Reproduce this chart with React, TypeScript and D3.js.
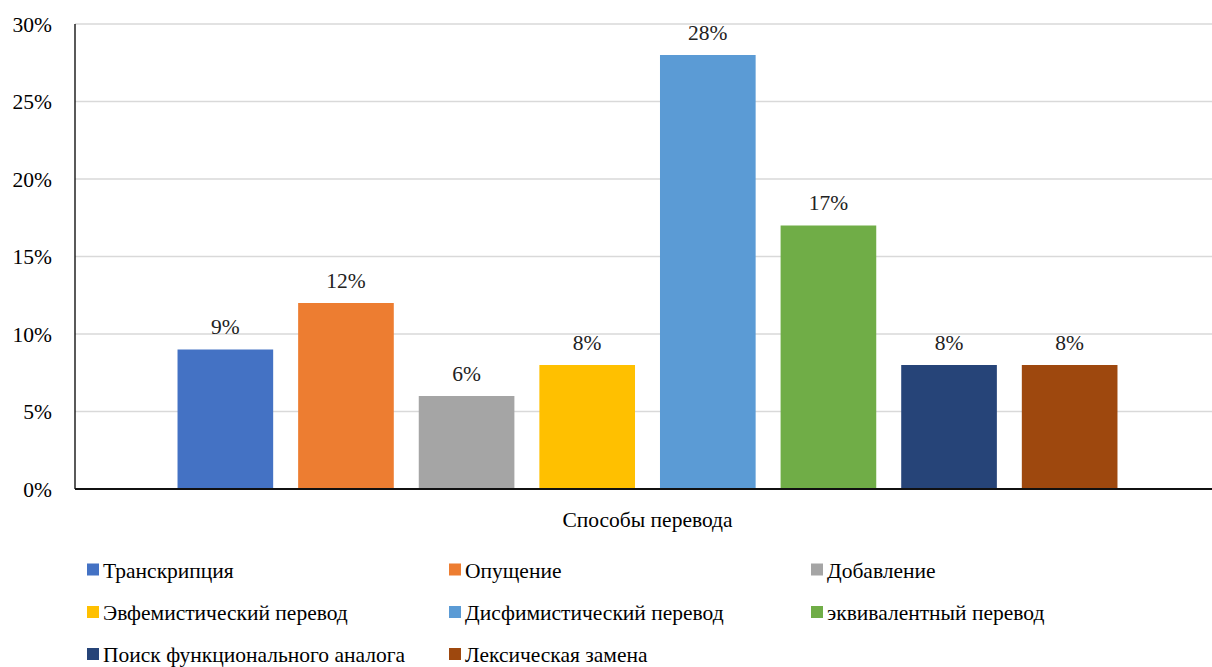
import React from "react";
import * as d3 from "d3";

const seriesNames = [
  "Транскрипция",
  "Опущение",
  "Добавление",
  "Эвфемистический перевод",
  "Дисфимистический перевод",
  "эквивалентный перевод",
  "Поиск функционального аналога",
  "Лексическая замена",
];
const seriesValues = [9, 12, 6, 8, 28, 17, 8, 8];
const seriesColors = ["#4472C4", "#ED7D31", "#A5A5A5", "#FFC000", "#5B9BD5", "#70AD47", "#264478", "#9E480E"];
const yTicks = [0, 5, 10, 15, 20, 25, 30];
const categoryTitle = "Способы перевода";

const W = 1212;
const H = 667;
const plotLeft = 75;
const plotRight = 1220;
const plotTop = 24;
const plotBottom = 489;
const font = "Liberation Serif, Times New Roman, Tinos, DejaVu Serif, serif";
const fs = 21.5;

export default function App() {
  const y = d3.scaleLinear().domain([0, 30]).range([plotBottom, plotTop]);
  const x = d3
    .scaleBand<string>()
    .domain(seriesNames)
    .range([plotLeft, plotRight])
    .paddingInner(0.207)
    .paddingOuter(0.85);

  const legendCols = [87, 449, 811];
  const legendRows = [577.5, 620, 662];
  const txt = { fontFamily: font, fontSize: fs } as React.CSSProperties;

  return (
    <svg width={W} height={H} style={{ position: "absolute", left: 0, top: 0, background: "#fff", fontFamily: font }}>
      {yTicks.map((t) => (
        <g key={t}>
          {t > 0 && (
            <line x1={plotLeft} x2={plotRight} y1={y(t)} y2={y(t)} stroke="#d9d9d9" strokeWidth={1.5} />
          )}
          <text x={52} y={y(t) + 7.5} textAnchor="end" style={txt} fill="#000">
            {t}%
          </text>
        </g>
      ))}
      {seriesNames.map((s, i) => (
        <g key={s}>
          <rect
            x={x(s)}
            y={y(seriesValues[i])}
            width={x.bandwidth()}
            height={plotBottom - y(seriesValues[i])}
            fill={seriesColors[i]}
          />
          <text
            x={(x(s) as number) + x.bandwidth() / 2}
            y={y(seriesValues[i]) - 15.5}
            textAnchor="middle"
            style={txt}
            fill="#222"
          >
            {seriesValues[i]}%
          </text>
        </g>
      ))}
      <line x1={plotLeft} x2={plotLeft} y1={plotTop} y2={plotBottom} stroke="#000" strokeWidth={1.3} />
      <line x1={plotLeft} x2={plotRight} y1={plotBottom} y2={plotBottom} stroke="#111" strokeWidth={2.2} />
      <text x={647.5} y={527} textAnchor="middle" style={txt} fill="#000">
        {categoryTitle}
      </text>
      {seriesNames.map((s, i) => {
        const cx = legendCols[i % 3];
        const cy = legendRows[Math.floor(i / 3)];
        return (
          <g key={"lg" + s}>
            <rect x={cx} y={cy - 14} width={12} height={12} fill={seriesColors[i]} />
            <text x={cx + 16} y={cy} style={txt} fill="#000">
              {s}
            </text>
          </g>
        );
      })}
    </svg>
  );
}
